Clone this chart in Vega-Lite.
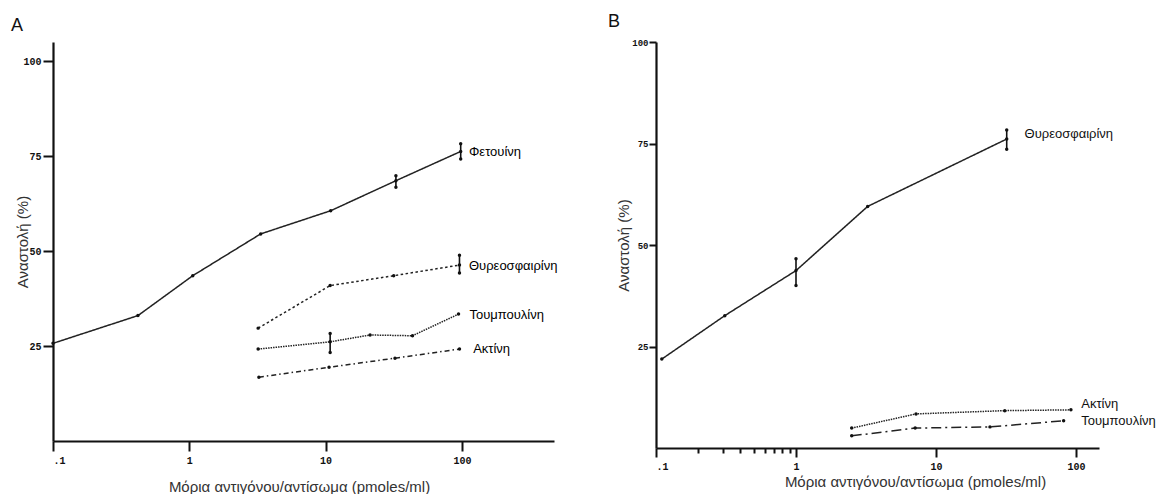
{
  "$schema": "https://vega.github.io/schema/vega-lite/v6.json",
  "background": "white",
  "padding": {"left": 11, "top": 13, "right": 0, "bottom": 0},
  "bounds": "flush",
  "spacing": 102,
  "config": {
    "view": {"stroke": null},
    "font": "Liberation Sans",
    "axis": {
      "grid": false, "domainColor": "#111", "domainWidth": 2.2, "tickColor": "#111", "tickWidth": 2,
      "labelFont": "Liberation Mono", "labelFontWeight": "bold", "labelFontSize": 10, "labelColor": "#111",
      "titleFont": "Liberation Sans", "titleFontWeight": "normal", "titleFontSize": 15, "titleColor": "#333"
    },
    "title": {"font": "Liberation Sans", "fontSize": 18, "fontWeight": "normal", "color": "#111", "anchor": "start", "frame": "group", "offset": 7}
  },
  "datasets": {
    "lineA": [
      {"series": "Φετουίνη", "x": 0.1, "y": 25.7},
      {"series": "Φετουίνη", "x": 0.42, "y": 33.0},
      {"series": "Φετουίνη", "x": 1.06, "y": 43.5},
      {"series": "Φετουίνη", "x": 3.34, "y": 54.5},
      {"series": "Φετουίνη", "x": 10.9, "y": 60.6},
      {"series": "Φετουίνη", "x": 32.8, "y": 68.5},
      {"series": "Φετουίνη", "x": 98, "y": 76.2},
      {"series": "Θυρεοσφαιρίνη", "x": 3.2, "y": 29.7},
      {"series": "Θυρεοσφαιρίνη", "x": 10.8, "y": 40.9},
      {"series": "Θυρεοσφαιρίνη", "x": 31.6, "y": 43.5},
      {"series": "Θυρεοσφαιρίνη", "x": 96, "y": 46.3},
      {"series": "Τουμπουλίνη", "x": 3.2, "y": 24.2},
      {"series": "Τουμπουλίνη", "x": 10.8, "y": 26.1},
      {"series": "Τουμπουλίνη", "x": 21.2, "y": 27.9},
      {"series": "Τουμπουλίνη", "x": 43.4, "y": 27.7},
      {"series": "Τουμπουλίνη", "x": 94.5, "y": 33.4},
      {"series": "Ακτίνη", "x": 3.24, "y": 16.8},
      {"series": "Ακτίνη", "x": 10.6, "y": 19.4},
      {"series": "Ακτίνη", "x": 32.3, "y": 21.8},
      {"series": "Ακτίνη", "x": 96, "y": 24.2}
    ],
    "errA": [
      {"series": "Φετουίνη", "x": 32.8, "lo": 66.8, "hi": 69.8},
      {"series": "Φετουίνη", "x": 98, "lo": 74.2, "hi": 78.2},
      {"series": "Θυρεοσφαιρίνη", "x": 96, "lo": 44.2, "hi": 48.9},
      {"series": "Τουμπουλίνη", "x": 10.8, "lo": 23.3, "hi": 28.3}
    ],
    "labA": [
      {"label": "Φετουίνη", "x": 112.7, "y": 76.0},
      {"label": "Θυρεοσφαιρίνη", "x": 112.7, "y": 46.1},
      {"label": "Τουμπουλίνη", "x": 113.5, "y": 33.2},
      {"label": "Ακτίνη", "x": 121, "y": 24.2}
    ],
    "lineB": [
      {"series": "Θυρεοσφαιρίνη", "x": 0.11, "y": 21.9},
      {"series": "Θυρεοσφαιρίνη", "x": 0.31, "y": 32.6},
      {"series": "Θυρεοσφαιρίνη", "x": 1.0, "y": 43.7},
      {"series": "Θυρεοσφαιρίνη", "x": 3.25, "y": 59.5},
      {"series": "Θυρεοσφαιρίνη", "x": 32, "y": 76.1},
      {"series": "Ακτίνη", "x": 2.5, "y": 4.9},
      {"series": "Ακτίνη", "x": 7.2, "y": 8.4},
      {"series": "Ακτίνη", "x": 31, "y": 9.2},
      {"series": "Ακτίνη", "x": 92, "y": 9.4},
      {"series": "Τουμπουλίνη", "x": 2.5, "y": 3.0},
      {"series": "Τουμπουλίνη", "x": 7.1, "y": 4.9},
      {"series": "Τουμπουλίνη", "x": 24.3, "y": 5.2},
      {"series": "Τουμπουλίνη", "x": 81.6, "y": 6.7}
    ],
    "errB": [
      {"series": "Θυρεοσφαιρίνη", "x": 1.0, "lo": 40.0, "hi": 46.6},
      {"series": "Θυρεοσφαιρίνη", "x": 32, "lo": 73.6, "hi": 78.3}
    ],
    "labB": [
      {"label": "Θυρεοσφαιρίνη", "x": 42.9, "y": 77.3},
      {"label": "Ακτίνη", "x": 109, "y": 10.8},
      {"label": "Τουμπουλίνη", "x": 109, "y": 6.7}
    ]
  },
  "resolve": {"scale": {"strokeDash": "independent"}},
  "hconcat": [
    {
      "title": {"text": "A", "dx": -42},
      "width": 501,
      "height": 399,
      "encoding": {
        "x": {"field": "x", "type": "quantitative",
          "scale": {"type": "log", "domain": [0.1, 474], "nice": false},
          "axis": {"values": [0.1, 1, 10, 100], "labelExpr": "datum.value < 0.5 ? '.1' : format(datum.value, 'd')",
            "tickSize": 10, "labelPadding": 4, "title": "Μόρια αντιγόνου/αντίσωμα (pmoles/ml)",
            "titleX": 246, "titleY": 45, "titleBaseline": "middle"}},
        "y": {"field": "y", "type": "quantitative",
          "scale": {"domain": [0, 105], "nice": false},
          "axis": {"values": [25, 50, 75, 100], "tickSize": 10, "labelPadding": 2, "title": "Αναστολή (%)",
            "titleX": -31, "titleBaseline": "middle"}}
      },
      "layer": [
        {
          "data": {"name": "lineA"},
          "mark": {"type": "line", "color": "#222", "strokeWidth": 1.5},
          "encoding": {
            "strokeDash": {"field": "series", "type": "nominal",
              "scale": {"domain": ["Φετουίνη", "Θυρεοσφαιρίνη", "Τουμπουλίνη", "Ακτίνη"],
                "range": [[1, 0], [2.5, 2.5], [1.5, 1], [5, 3, 1.5, 3]]},
              "legend": null}
          }
        },
        {
          "data": {"name": "lineA"},
          "mark": {"type": "point", "filled": true, "color": "#111", "size": 12, "opacity": 1}
        },
        {
          "data": {"name": "errA"},
          "mark": {"type": "rule", "color": "#111", "strokeWidth": 1.6},
          "encoding": {
            "y": {"field": "lo", "type": "quantitative", "title": "Αναστολή (%)"},
            "y2": {"field": "hi"}
          }
        },
        {
          "data": {"name": "errA"},
          "mark": {"type": "point", "filled": true, "color": "#111", "size": 12, "opacity": 1},
          "encoding": {"y": {"field": "lo", "type": "quantitative", "title": "Αναστολή (%)"}}
        },
        {
          "data": {"name": "errA"},
          "mark": {"type": "point", "filled": true, "color": "#111", "size": 12, "opacity": 1},
          "encoding": {"y": {"field": "hi", "type": "quantitative", "title": "Αναστολή (%)"}}
        },
        {
          "data": {"name": "labA"},
          "mark": {"type": "text", "align": "left", "baseline": "middle", "font": "Liberation Sans", "fontSize": 13, "color": "#000"},
          "encoding": {"text": {"field": "label"}}
        }
      ]
    },
    {
      "title": {"text": "B", "dx": -48},
      "width": 443,
      "height": 406,
      "encoding": {
        "x": {"field": "x", "type": "quantitative",
          "scale": {"type": "log", "domain": [0.1, 146], "nice": false},
          "axis": {"values": [0.1, 0.2, 0.3, 0.4, 0.5, 0.6, 0.7, 0.8, 0.9, 1, 10, 100],
            "labelExpr": "datum.value < 0.15 ? '.1' : (datum.value >= 1 ? format(datum.value, 'd') : '')",
            "tickSize": {"condition": {"test": "datum.value < 0.15 || datum.value >= 1", "value": 9}, "value": 5},
            "labelPadding": 4, "title": "Μόρια αντιγόνου/αντίσωμα (pmoles/ml)",
            "titleX": 259, "titleY": 33, "titleBaseline": "middle"}},
        "y": {"field": "y", "type": "quantitative",
          "scale": {"domain": [0, 100], "nice": false},
          "axis": {"values": [25, 50, 75, 100], "tickSize": 7, "labelPadding": 1, "labelFontSize": 9, "title": "Αναστολή (%)",
            "titleX": -33, "titleBaseline": "middle"}}
      },
      "layer": [
        {
          "data": {"name": "lineB"},
          "mark": {"type": "line", "color": "#222", "strokeWidth": 1.5},
          "encoding": {
            "strokeDash": {"field": "series", "type": "nominal",
              "scale": {"domain": ["Θυρεοσφαιρίνη", "Ακτίνη", "Τουμπουλίνη"],
                "range": [[1, 0], [1.5, 1], [10, 4, 2, 4]]},
              "legend": null}
          }
        },
        {
          "data": {"name": "lineB"},
          "mark": {"type": "point", "filled": true, "color": "#111", "size": 12, "opacity": 1}
        },
        {
          "data": {"name": "errB"},
          "mark": {"type": "rule", "color": "#111", "strokeWidth": 1.6},
          "encoding": {
            "y": {"field": "lo", "type": "quantitative", "title": "Αναστολή (%)"},
            "y2": {"field": "hi"}
          }
        },
        {
          "data": {"name": "errB"},
          "mark": {"type": "point", "filled": true, "color": "#111", "size": 12, "opacity": 1},
          "encoding": {"y": {"field": "lo", "type": "quantitative", "title": "Αναστολή (%)"}}
        },
        {
          "data": {"name": "errB"},
          "mark": {"type": "point", "filled": true, "color": "#111", "size": 12, "opacity": 1},
          "encoding": {"y": {"field": "hi", "type": "quantitative", "title": "Αναστολή (%)"}}
        },
        {
          "data": {"name": "labB"},
          "mark": {"type": "text", "align": "left", "baseline": "middle", "font": "Liberation Sans", "fontSize": 13, "color": "#111"},
          "encoding": {"text": {"field": "label"}}
        }
      ]
    }
  ]
}
